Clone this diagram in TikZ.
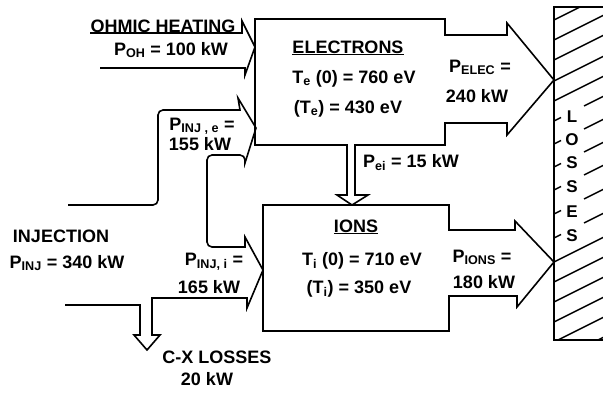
\documentclass[tikz,border=0pt]{standalone}
\usepackage{fontspec}
\setmainfont{Liberation Sans}
\usetikzlibrary{positioning}

\begin{document}
\begin{tikzpicture}[x=1pt,y=-1pt,font=\bfseries\fontsize{18}{20}\selectfont,
flow/.style={line width=1.6pt,line join=miter},
lbl/.style={anchor=base,inner sep=0pt},
hatchline/.style={line width=1.4pt},
losschar/.style={inner sep=0pt,font=\bfseries\fontsize{17}{19}\selectfont}]
\useasboundingbox (0,0) rectangle (603,392);
\begin{scope}
\clip (554,7) rectangle (603,340);
\foreach \h in {20,40,60,81,101,262,282,302,322,342,362}
  \draw[hatchline] (554,\h) -- ++(60,-30);
\foreach \h in {121,144,167,190,214,238}{
  \draw[hatchline] (554,\h) -- ++(7,-3.5);
  \draw[hatchline] (584,\h-15) -- ++(30,-15);
}
\end{scope}
\draw[hatchline] (603,7) -- (554,7) -- (554,340) -- (603,340);
\foreach \c/\yy [count=\i] in {L/117,O/140,S/163,S/187,E/212,S/236}
  \node[losschar] (loss\i) at (572,\yy) {\c};
\draw[flow] (90,33) -- (242,33) -- (242,21) -- (255,47) -- (245,75) -- (245,68) -- (100,68);
\draw[flow] (255,19) -- (445,19) -- (445,35) -- (507,35) -- (507,23) -- (554,80) -- (507,135) -- (507,123) -- (445,123) -- (445,145) -- (355,145) -- (355,195) -- (368,195) -- (352,205) -- (337,195) -- (347,195) -- (347,145) -- (255,145) -- cycle;
\draw[flow] (263,205) -- (449,205) -- (449,230) -- (515,230) -- (515,221) -- (554,262) -- (517,307) -- (517,296) -- (449,296) -- (449,331) -- (263,331) -- cycle;
\draw[flow] (65,305) -- (140,305) -- (140,335) -- (134,335) -- (147,350) -- (160,335) -- (152,335) -- (152,298) -- (247,298) -- (247,308) -- (263,270) -- (245,237) -- (245,247) [rounded corners=5pt] -- (207,247) -- (207,155) -- (245,155) [sharp corners] -- (245,163) -- (256,128) -- (238,98) -- (240,110) [rounded corners=5pt] -- (158,110) -- (158,205) -- (68,205);
\node[lbl] (ohmic) at (163,32) {OHMIC HEATING};
\node[lbl] (poh) at (171,55) {P\textsubscript{OH} = 100 kW};
\node[lbl] (pinje) at (202,130) {P\textsubscript{INJ , e} =};
\node[lbl] (pinjekw) at (200,150) {155 kW};
\node[lbl] (inj) at (61,242) {INJECTION};
\node[lbl] (pinj) at (67,268) {P\textsubscript{INJ} = 340 kW};
\node[lbl] (pinji) at (214,265) {P\textsubscript{INJ, i} =};
\node[lbl] (pinjikw) at (209,293) {165 kW};
\node[lbl] (cx) at (217,363) {C-X LOSSES};
\node[lbl] (cxkw) at (207,385) {20 kW};
\node[lbl] (elec) at (348,53) {\underline{ELECTRONS}};
\node[lbl] (te0) at (354,83) {T\textsubscript{e} (0) = 760 eV};
\node[lbl] (temean) at (348,113) {(T\textsubscript{e}) = 430 eV};
\node[lbl] (pelec) at (480,72) {P\textsubscript{ELEC} =};
\node[lbl] (pelkw) at (477,102) {240 kW};
\node[lbl] (pei) at (411,167) {P\textsubscript{ei} = 15 kW};
\node[lbl] (ions) at (356,232) {\underline{IONS}};
\node[lbl] (ti0) at (362,265) {T\textsubscript{i} (0) = 710 eV};
\node[lbl] (timean) at (359,293) {(T\textsubscript{i}) = 350 eV};
\node[lbl] (pions) at (482,262) {P\textsubscript{IONS} =};
\node[lbl] (pionkw) at (484,288) {180 kW};
\end{tikzpicture}
\end{document}
